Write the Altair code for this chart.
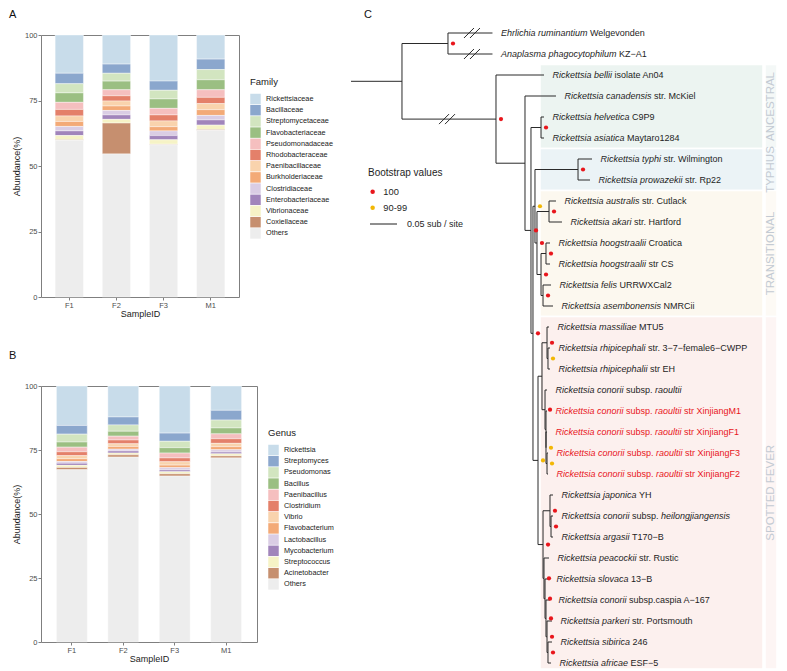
import altair as alt
import pandas as pd

# ---------------- Panels A / B : stacked relative abundance ----------------
SAMPLES = ["F1", "F2", "F3", "M1"]

FAMILIES = ["Rickettsiaceae", "Bacillaceae", "Streptomycetaceae", "Flavobacteriaceae",
            "Pseudomonadaceae", "Rhodobacteraceae", "Paenibacillaceae", "Burkholderiaceae",
            "Clostridiaceae", "Enterobacteriaceae", "Vibrionaceae", "Coxiellaceae", "Others"]
FAMILY_F1 = [14.6, 4.0, 3.5, 3.6, 2.7, 2.5, 2.1, 1.9, 1.7, 1.8, 1.6, 0.2, 59.8]
FAMILY_F2 = [11.1, 3.5, 3.0, 3.3, 2.3, 2.0, 1.9, 1.7, 1.7, 1.7, 1.4, 11.8, 54.6]
FAMILY_F3 = [17.6, 3.5, 3.3, 3.6, 2.5, 2.3, 2.2, 1.6, 1.8, 1.6, 1.7, 0.2, 58.1]
FAMILY_M1 = [9.2, 4.0, 3.9, 3.8, 2.9, 2.4, 2.3, 2.2, 1.7, 2.0, 1.7, 0.3, 63.6]

GENERA = ["Rickettsia", "Streptomyces", "Pseudomonas", "Bacillus", "Paenibacillus",
          "Clostridium", "Vibrio", "Flavobacterium", "Lactobacillus", "Mycobacterium",
          "Streptococcus", "Acinetobacter", "Others"]
GENUS_F1 = [15.4, 3.4, 3.1, 2.0, 1.8, 1.5, 1.2, 1.1, 0.7, 0.8, 0.8, 0.9, 67.3]
GENUS_F2 = [12.1, 3.1, 2.5, 1.9, 1.5, 1.5, 1.0, 1.1, 0.7, 0.8, 0.7, 0.9, 72.2]
GENUS_F3 = [18.4, 3.2, 2.5, 2.1, 1.9, 1.5, 1.3, 1.0, 0.9, 0.7, 0.8, 0.9, 64.8]
GENUS_M1 = [9.5, 3.8, 3.1, 2.3, 1.9, 1.8, 1.3, 1.2, 0.9, 0.7, 0.8, 0.8, 71.9]

TAXON_COLORS = ["#c8dcea", "#8ba7cd", "#d2e5c0", "#9bbf82", "#f5bfbf", "#e4806a",
                "#f9d3ad", "#f3aa77", "#dacde4", "#a185bb", "#f6f3c6", "#c68f6f", "#ededed"]

# ---------------- Panel C : phylogenetic tree ----------------
TIP_LABELS = [
    [("Ehrlichia ruminantium", 1), (" Welgevonden", 0)],
    [("Anaplasma phagocytophilum", 1), (" KZ\u2212A1", 0)],
    [("Rickettsia bellii", 1), (" isolate An04", 0)],
    [("Rickettsia canadensis", 1), (" str. McKiel", 0)],
    [("Rickettsia helvetica", 1), (" C9P9", 0)],
    [("Rickettsia asiatica", 1), (" Maytaro1284", 0)],
    [("Rickettsia typhi", 1), (" str. Wilmington", 0)],
    [("Rickettsia prowazekii", 1), (" str. Rp22", 0)],
    [("Rickettsia australis", 1), (" str. Cutlack", 0)],
    [("Rickettsia akari", 1), (" str. Hartford", 0)],
    [("Rickettsia hoogstraalii", 1), (" Croatica", 0)],
    [("Rickettsia hoogstraalii", 1), (" str CS", 0)],
    [("Rickettsia felis", 1), (" URRWXCal2", 0)],
    [("Rickettsia asembonensis", 1), (" NMRCii", 0)],
    [("Rickettsia massiliae", 1), (" MTU5", 0)],
    [("Rickettsia rhipicephali", 1), (" str. 3\u22127\u2212female6\u2212CWPP", 0)],
    [("Rickettsia rhipicephalii", 1), (" str EH", 0)],
    [("Rickettsia conorii", 1), (" subsp. ", 0), ("raoultii", 1)],
    [("Rickettsia conorii", 1), (" subsp. ", 0), ("raoultii", 1), (" str XinjiangM1", 0)],
    [("Rickettsia conorii", 1), (" subsp. ", 0), ("raoultii", 1), (" str XinjiangF1", 0)],
    [("Rickettsia conorii", 1), (" subsp. ", 0), ("raoultii", 1), (" str XinjiangF3", 0)],
    [("Rickettsia conorii", 1), (" subsp. ", 0), ("raoultii", 1), (" str XinjiangF2", 0)],
    [("Rickettsia japonica", 1), (" YH", 0)],
    [("Rickettsia conorii", 1), (" subsp. ", 0), ("heilongjiangensis", 1)],
    [("Rickettsia argasii", 1), (" T170\u2212B", 0)],
    [("Rickettsia peacockii", 1), (" str. Rustic", 0)],
    [("Rickettsia slovaca", 1), (" 13\u2212B", 0)],
    [("Rickettsia conorii", 1), (" subsp.caspia A\u2212167", 0)],
    [("Rickettsia parkeri", 1), (" str. Portsmouth", 0)],
    [("Rickettsia sibirica", 1), (" 246", 0)],
    [("Rickettsia africae", 1), (" ESF\u22125", 0)],
]
HIGHLIGHT_TIPS = [18, 19, 20, 21]

# internal nodes: name, parent, depth (sub/site from root-edge start), bootstrap
NODE_NAMES = ["R", "E", "A", "B", "C", "HA", "N332", "N205", "TY", "TR", "AA", "HF",
              "HO", "FA", "SF", "G1", "MR", "RH", "RA1", "RA2", "RA3", "RA4", "G2",
              "JA", "HA2", "P1", "P2", "P3", "P4", "P5"]
NODE_PARENT = [None, "R", "R", "A", "B", "C", "C", "N332", "N205", "N205", "TR", "TR",
               "HF", "HF", "N332", "SF", "G1", "MR", "G1", "RA1", "RA2", "RA3", "SF",
               "G2", "JA", "G2", "P1", "P2", "P3", "P4"]
NODE_DEPTH = [0.0944, 0.1796, 0.2685, 0.3222, 0.3333, 0.3519, 0.3370, 0.3407, 0.4204,
              0.3444, 0.3667, 0.3519, 0.3611, 0.3556, 0.3463, 0.3537, 0.3630, 0.3648,
              0.3593, 0.3611, 0.3611, 0.3630, 0.3556, 0.3685, 0.3704, 0.3574, 0.3593,
              0.3611, 0.3630, 0.3648]
NODE_BOOT = [None, 100, 100, None, 100, 100, 100, 95, 100, 100, 100, 100, 100, 100, 95,
             None, 100, 95, 100, None, 95, 95, 100, 100, 100, 100, 100, 100, 100, 100]

TIP_PARENT = ["E", "E", "A", "B", "HA", "HA", "TY", "TY", "AA", "AA", "HO", "HO", "FA",
              "FA", "MR", "RH", "RH", "RA1", "RA2", "RA3", "RA4", "RA4", "JA", "HA2",
              "HA2", "P1", "P2", "P3", "P4", "P5", "P5"]
TIP_DEPTH = [0.2620, 0.2620, 0.3574, 0.3796, 0.3574, 0.3574, 0.4463, 0.4426, 0.3796,
             0.3907, 0.3685, 0.3685, 0.3704, 0.3741, 0.3667, 0.3685, 0.3685, 0.3630,
             0.3630, 0.3630, 0.3648, 0.3648, 0.3741, 0.3741, 0.3741, 0.3667, 0.3648,
             0.3685, 0.3722, 0.3722, 0.3704]

# long branches drawn shortened with a break sign: (target, depth of the sign)
BREAK_TARGETS = [("tip", 0), ("tip", 1), ("node", "A")]
BREAK_DEPTHS = [0.2240, 0.2240, 0.1778]

CLADES = ["ANCESTRAL", "TYPHUS", "TRANSITIONAL", "SPOTTED FEVER"]
CLADE_FIRST = [2, 6, 8, 14]
CLADE_LAST = [5, 7, 13, 30]
CLADE_FILL = ["#ecf4f1", "#ebf3f6", "#fcf8ef", "#fcf0ee"]
CLADE_STRIP = ["#f4f8f7", "#f3f8fa", "#fdfaf5", "#fdf5f4"]

BOOT_CLASSES = ["100", "90-99"]
BOOT_COLORS = ["#e8161c", "#f2b705"]
SCALE_BAR = 0.05

# ---------------- layout / style constants ----------------
FONT = "Liberation Sans"
PXU = 540.0                 # pixels per sub/site in the tree panel
TREE_PAGE_X = 340.0         # page x of the tree panel's left edge
TREE_PAGE_Y = 34.0          # page y of the tree panel's top edge
ROOT_PAGE_X = 353.0
XMIN = (TREE_PAGE_X - ROOT_PAGE_X) / PXU
XMAX = (779.0 - ROOT_PAGE_X) / PXU
ROW = 21.0                  # pixels per tip
YMIN = (TREE_PAGE_Y - 32.0) / ROW
TREE_H = 634.0
YMAX = YMIN + TREE_H / ROW
FS = 9.0
LABEL_GAP = 8.5
BAND_X0 = (542.0 - ROOT_PAGE_X) / PXU
BAND_X1 = (765.0 - ROOT_PAGE_X) / PXU
STRIP_X0 = (767.0 - ROOT_PAGE_X) / PXU

HELV = {' ': 278, '.': 278, '-': 333, '\u2212': 584, '/': 278, '(': 333, ')': 333}
for ch in "0123456789":
    HELV[ch] = 556
for ch, w in zip("ABCDEFGHIJKLMNOPQRSTUVWXYZ",
                 [667, 667, 722, 722, 667, 611, 778, 722, 278, 500, 667, 556, 833, 722,
                  778, 667, 778, 722, 667, 611, 722, 667, 944, 667, 667, 611]):
    HELV[ch] = w
for ch, w in zip("abcdefghijklmnopqrstuvwxyz",
                 [556, 556, 500, 556, 556, 278, 556, 556, 222, 222, 500, 222, 833, 556,
                  556, 556, 556, 333, 500, 278, 556, 500, 722, 500, 500, 500]):
    HELV[ch] = w


def text_width(s, size):
    return sum(HELV.get(c, 556) for c in s) * size / 1000.0


# ---------------- bar panels ----------------
def stacked_frame(taxa, series):
    rows = []
    for s, vals in zip(SAMPLES, series):
        for i, (t, v) in enumerate(zip(taxa, vals)):
            rows.append({"sample": s, "taxon": t, "value": v, "stack": len(taxa) - 1 - i})
    return pd.DataFrame(rows)


def bar_panel(df, taxa, letter, legend_title, width, height, legend_x, legend_y, letter_y):
    bars = alt.Chart(df).mark_bar(stroke="white", strokeWidth=0.4).encode(
        x=alt.X("sample:N", sort=SAMPLES,
                scale=alt.Scale(paddingInner=0.4, paddingOuter=0.3),
                axis=alt.Axis(title="SampleID", labelAngle=0, domain=False,
                              tickColor="#7f7f7f", tickSize=3, labelFontSize=7.5,
                              labelColor="#4d4d4d", labelPadding=1, titleFontSize=9,
                              titleFontWeight="normal", titleColor="#1a1a1a",
                              titlePadding=1)),
        y=alt.Y("value:Q", stack="zero",
                scale=alt.Scale(domain=[0, 100], nice=False),
                axis=alt.Axis(values=[0, 25, 50, 75, 100], title="Abundance(%)",
                              domain=False, grid=False, tickColor="#7f7f7f", tickSize=3,
                              labelFontSize=7.5, labelColor="#4d4d4d", labelPadding=1,
                              titleFontSize=9, titleFontWeight="normal",
                              titleColor="#1a1a1a", titlePadding=3)),
        color=alt.Color("taxon:N",
                        scale=alt.Scale(domain=taxa, range=TAXON_COLORS),
                        legend=alt.Legend(title=legend_title, orient="none",
                                          legendX=legend_x, legendY=legend_y,
                                          titleFontSize=9.5, titleFontWeight="normal",
                                          titleColor="#1a1a1a", titlePadding=7,
                                          labelFontSize=7.3, labelColor="#222222",
                                          symbolType="square", symbolSize=110,
                                          symbolStrokeWidth=0, labelOffset=5,
                                          rowPadding=0.2)),
        order=alt.Order("stack:Q", sort="ascending"),
    )
    tag = alt.Chart(pd.DataFrame({"t": [letter]})).mark_text(
        align="left", baseline="top", fontSize=11, color="#111111"
    ).encode(x=alt.value(-32), y=alt.value(letter_y), text="t:N")
    return alt.layer(bars, tag).properties(
        width=width, height=height,
        view=alt.ViewBackground(stroke="#7f7f7f", strokeWidth=1))


panel_a = bar_panel(stacked_frame(FAMILIES, [FAMILY_F1, FAMILY_F2, FAMILY_F3, FAMILY_M1]),
                    FAMILIES, "A", "Family", 198, 262, 209, 42, -26)
panel_b = bar_panel(stacked_frame(GENERA, [GENUS_F1, GENUS_F2, GENUS_F3, GENUS_M1]),
                    GENERA, "B", "Genus", 216, 256, 227, 42, -36)

# ---------------- tree geometry ----------------
depth = dict(zip(NODE_NAMES, NODE_DEPTH))
children = {n: [] for n in NODE_NAMES}
for n, p in zip(NODE_NAMES, NODE_PARENT):
    if p is not None:
        children[p].append(("node", n))
for i, p in enumerate(TIP_PARENT):
    children[p].append(("tip", i))

ypos = {}


def node_y(n):
    ys = [c[1] if c[0] == "tip" else node_y(c[1]) for c in children[n]]
    ypos[n] = sum(ys) / len(ys)
    return ypos[n]


node_y("R")


def child_y(c):
    return c[1] if c[0] == "tip" else ypos[c[1]]


segs = [{"x": 0.0, "x2": depth["R"], "y": ypos["R"], "y2": ypos["R"]}]
for n, p in zip(NODE_NAMES, NODE_PARENT):
    if p is not None:
        segs.append({"x": depth[p], "x2": depth[n], "y": ypos[n], "y2": ypos[n]})
for i, (p, d) in enumerate(zip(TIP_PARENT, TIP_DEPTH)):
    segs.append({"x": depth[p], "x2": d, "y": i, "y2": i})
for n in NODE_NAMES:
    cy = [child_y(c) for c in children[n]]
    segs.append({"x": depth[n], "x2": depth[n], "y": min(cy), "y2": max(cy)})
seg_df = pd.DataFrame(segs)

brk = []
for (kind, key), d in zip(BREAK_TARGETS, BREAK_DEPTHS):
    yy = key if kind == "tip" else ypos[key]
    for k in (-1, 1):
        cx = d + k * 3.0 / PXU
        brk.append({"x": cx - 5.0 / PXU, "x2": cx + 5.0 / PXU,
                    "y": yy + 5.0 / ROW, "y2": yy - 5.0 / ROW})
brk_df = pd.DataFrame(brk)

dots = []
for n, b in zip(NODE_NAMES, NODE_BOOT):
    if b is not None:
        dots.append({"x": depth[n] + 5.0 / PXU, "y": ypos[n],
                     "boot": "100" if b == 100 else "90-99"})
dot_df = pd.DataFrame(dots)

labels = []
space_w = text_width(" ", FS)
for i, parts in enumerate(TIP_LABELS):
    off = LABEL_GAP
    col = "#e8161c" if i in HIGHLIGHT_TIPS else "#1e1e1e"
    for text, ital in parts:
        core = text.strip(" ")
        lead = len(text) - len(text.lstrip(" "))
        trail = len(text) - len(text.rstrip(" "))
        off += lead * space_w
        labels.append({"x": TIP_DEPTH[i] + off / PXU, "y": i, "text": core,
                       "italic": ital, "col": col})
        off += text_width(core, FS) + trail * space_w
lab_df = pd.DataFrame(labels)

band_df = pd.DataFrame({
    "clade": CLADES,
    "x": [BAND_X0] * 4, "x2": [BAND_X1] * 4,
    "sx": [STRIP_X0] * 4, "sx2": [XMAX] * 4,
    "y": [f - 0.5 for f in CLADE_FIRST],
    "y2": [min(l + 0.5, YMAX) for l in CLADE_LAST],
    "fill": CLADE_FILL, "sfill": CLADE_STRIP,
})
band_df["yc"] = (band_df["y"] + band_df["y2"]) / 2
band_df["xc"] = (band_df["sx"] + band_df["sx2"]) / 2

xs = alt.Scale(domain=[XMIN, XMAX], nice=False, zero=False)
ys = alt.Scale(domain=[YMIN, YMAX], nice=False, zero=False, reverse=True)
X = lambda f: alt.X(f, scale=xs, axis=None)
Y = lambda f: alt.Y(f, scale=ys, axis=None)

bands = alt.Chart(band_df).mark_rect(stroke="white", strokeWidth=1.5).encode(
    x=X("x:Q"), x2="x2:Q", y=Y("y:Q"), y2="y2:Q", fill=alt.Fill("fill:N", scale=None))
strips = alt.Chart(band_df).mark_rect(stroke="white", strokeWidth=1.5).encode(
    x=X("sx:Q"), x2="sx2:Q", y=Y("y:Q"), y2="y2:Q", fill=alt.Fill("sfill:N", scale=None))
strip_text = alt.Chart(band_df).mark_text(
    angle=270, fontSize=11.5, color="#c3cad3", align="center", baseline="middle"
).encode(x=X("xc:Q"), y=Y("yc:Q"), text="clade:N")

branches = alt.Chart(seg_df).mark_rule(color="#2a2a2a", strokeWidth=1).encode(
    x=X("x:Q"), x2="x2:Q", y=Y("y:Q"), y2="y2:Q")
breaks = alt.Chart(brk_df).mark_rule(color="#2a2a2a", strokeWidth=1).encode(
    x=X("x:Q"), x2="x2:Q", y=Y("y:Q"), y2="y2:Q")

points = alt.Chart(dot_df).mark_circle(size=18, opacity=1).encode(
    x=X("x:Q"), y=Y("y:Q"),
    color=alt.Color("boot:N",
                    scale=alt.Scale(domain=BOOT_CLASSES, range=BOOT_COLORS),
                    legend=alt.Legend(title="Bootstrap values", orient="none",
                                      legendX=30, legendY=167 - TREE_PAGE_Y,
                                      titleFontSize=10,
                                      titleFontWeight="normal", titleColor="#1e1e1e",
                                      titlePadding=9, labelFontSize=9.3,
                                      labelColor="#1e1e1e", symbolSize=20,
                                      symbolType="circle", symbolStrokeWidth=0,
                                      labelOffset=6, rowPadding=6)))

ital_text = alt.Chart(lab_df[lab_df["italic"] == 1]).mark_text(
    align="left", baseline="middle", fontSize=FS, fontStyle="italic"
).encode(x=X("x:Q"), y=Y("y:Q"), text="text:N", fill=alt.Fill("col:N", scale=None))
norm_text = alt.Chart(lab_df[lab_df["italic"] == 0]).mark_text(
    align="left", baseline="middle", fontSize=FS
).encode(x=X("x:Q"), y=Y("y:Q"), text="text:N", fill=alt.Fill("col:N", scale=None))

bar_y = (223.0 - 32.0) / ROW
bar_x0 = (372.0 - ROOT_PAGE_X) / PXU
sb_df = pd.DataFrame({"x": [bar_x0], "x2": [bar_x0 + SCALE_BAR], "y": [bar_y],
                      "tx": [bar_x0 + SCALE_BAR + 10.0 / PXU],
                      "t": ["%.2f sub / site" % SCALE_BAR]})
scale_rule = alt.Chart(sb_df).mark_rule(color="#1e1e1e", strokeWidth=1).encode(
    x=X("x:Q"), x2="x2:Q", y=Y("y:Q"))
scale_text = alt.Chart(sb_df).mark_text(
    align="left", baseline="middle", fontSize=9, color="#1e1e1e"
).encode(x=X("tx:Q"), y=Y("y:Q"), text="t:N")

tag_c = alt.Chart(pd.DataFrame({"t": ["C"]})).mark_text(
    align="left", baseline="top", fontSize=11, color="#111111"
).encode(x=alt.value(26), y=alt.value(-26), text="t:N")

panel_c = alt.layer(bands, strips, strip_text, branches, breaks, points, ital_text,
                    norm_text, scale_rule, scale_text, tag_c).properties(
    width=(XMAX - XMIN) * PXU, height=TREE_H,
    view=alt.ViewBackground(stroke="transparent"))

left = alt.vconcat(panel_a, panel_b, spacing=30).resolve_scale(color="independent")
chart = alt.hconcat(left, panel_c, spacing=2).resolve_scale(
    color="independent").properties(padding=0).configure(
    font=FONT).configure_view(stroke="transparent")

chart.save("out.html", embed_options={"renderer": "svg", "actions": False})
